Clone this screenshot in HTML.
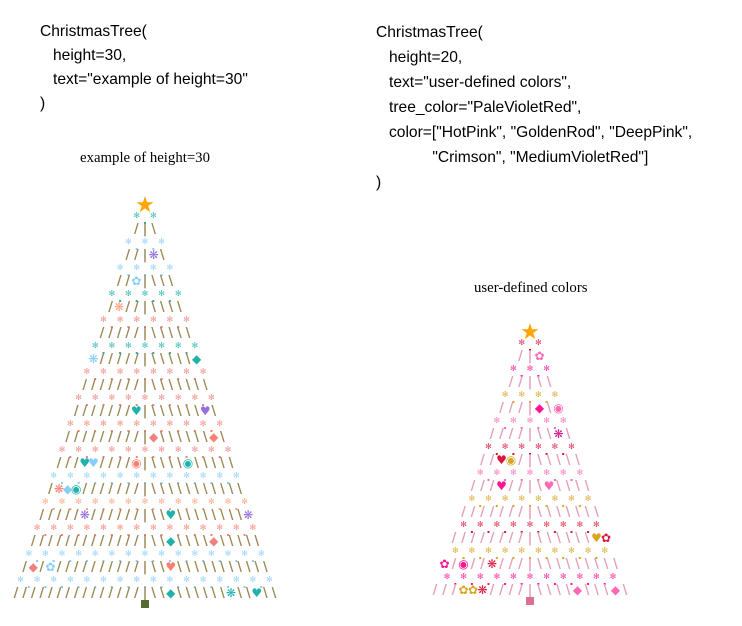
<!DOCTYPE html>
<html><head><meta charset="utf-8"><style>
body{margin:0;background:#fff;width:742px;height:626px;overflow:hidden;position:relative}
.c{position:absolute;font-family:"Liberation Sans","DejaVu Sans",sans-serif;font-size:15.6px;color:#000;line-height:25px;white-space:pre}
.t{position:absolute;font-family:"Liberation Serif",serif;font-size:14.8px;color:#000;white-space:pre}
svg{position:absolute;left:0;top:0}
</style></head><body>
<div class="c" style="left:40px;top:20px;line-height:24px">ChristmasTree(
   height=30,
   text="example of height=30"
)</div>
<div class="c" style="left:376px;top:20px">ChristmasTree(
   height=20,
   text="user-defined colors",
   tree_color="PaleVioletRed",
   color=["HotPink", "GoldenRod", "DeepPink",
             "Crimson", "MediumVioletRed"]
)</div>
<div class="t" style="left:80px;top:150px">example of height=30</div>
<div class="t" style="left:474px;top:280px">user-defined colors</div>
<svg id="s" width="742" height="626" xmlns="http://www.w3.org/2000/svg"></svg>
<script>
var s=document.getElementById('s'),out='';
var seed=7;function r(){seed=(seed*9301+49297)%233280;return seed/233280;}
function tree(cx,lines,top,dx,sdx,slashCol,cols,trunk){
  out+='<text x="'+cx+'" y="'+(top+5)+'" font-size="22" fill="#ffa500" text-anchor="middle" font-family="DejaVu Sans">★</text>';
  for(var i=0;i<lines;i++){
    var y=top+8+i*13, n=Math.floor(i/2)+1;
    if(i%2==0){
      var c=cols[Math.floor(r()*cols.length)];
      for(var k=0;k<=n;k++){var x=cx+(k-n/2)*sdx;
        out+='<text x="'+x+'" y="'+(y+3)+'" font-size="8" fill="'+c+'" fill-opacity="0.85" text-anchor="middle" font-family="DejaVu Sans">✻</text>';
        if(k<n)out+='<rect x="'+(x+sdx/2-1)+'" y="'+(y+7)+'" width="2" height="2" fill="'+c+'"/>';}
    }else{
      for(var k=-n;k<=n;k++){var x=cx+k*dx,ch=k<0?'/':(k==0?'|':'\\'),col=slashCol,fs=13,fw='bold';
        if(k!=0&&r()<0.1){ch='◆♥✿◉❋'[Math.floor(r()*5)];col=cols[Math.floor(r()*cols.length)];fs=12;fw='normal';}
        out+='<text x="'+x+'" y="'+(y+5)+'" font-size="'+fs+'" font-weight="'+fw+'" fill="'+col+'" text-anchor="middle" font-family="DejaVu Sans">'+ch+'</text>';}
    }
  }
  out+='<rect x="'+(cx-4)+'" y="'+(top+8+lines*13-5)+'" width="8" height="8" fill="'+trunk+'"/>';
}
tree(145,30,207,8.6,16.6,'#9c8a55',['#fa8072','#87cefa','#20b2aa','#9370db','#f08080','#ffa07a'],'#556b2f');
tree(530,20,334,9.5,16.6,'#e4a0b8',['#ff69b4','#daa520','#ff1493','#dc143c','#c71585'],'#db7093');
s.innerHTML=out;
</script>
</body></html>
